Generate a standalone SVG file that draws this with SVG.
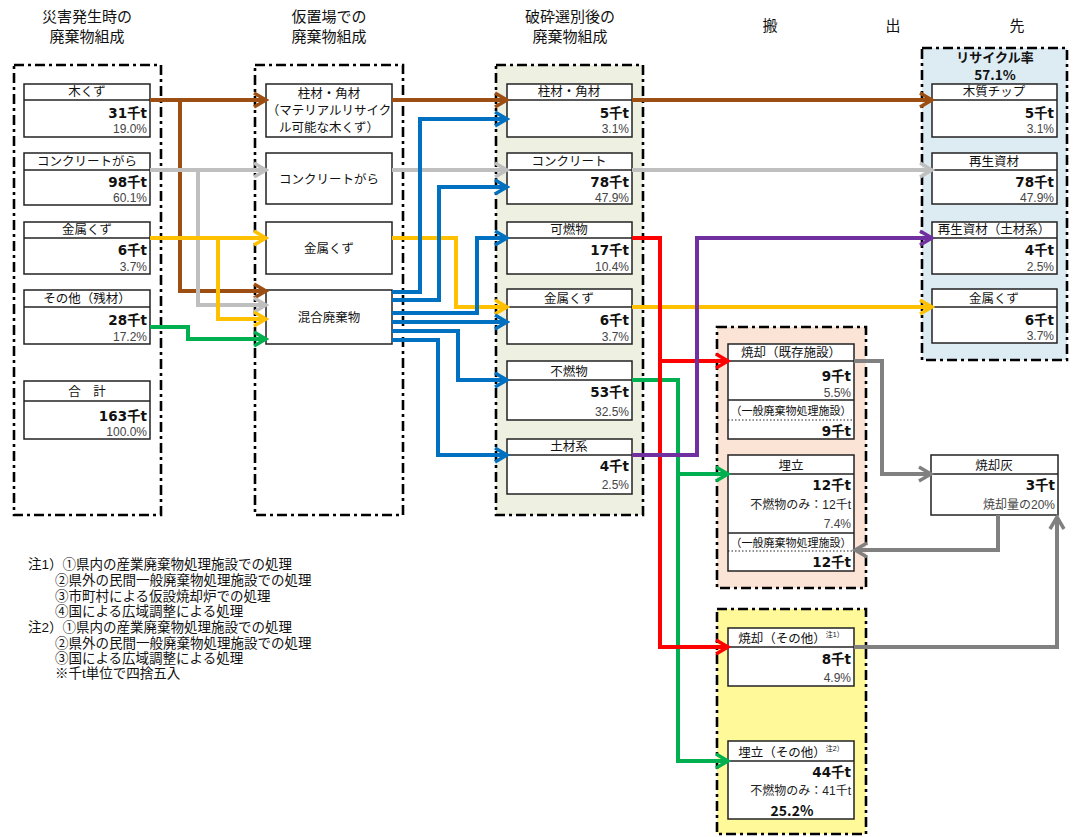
<svg xmlns="http://www.w3.org/2000/svg" width="1074" height="837" viewBox="0 0 1074 837">
<style>
text{font-family:"Noto Sans CJK JP","Liberation Sans",sans-serif;fill:#111}
.ttl{font-size:15px;text-anchor:middle}
.hd{font-family:"Liberation Sans","Noto Sans CJK JP",sans-serif;font-size:12.5px;text-anchor:middle}
.val{font-family:"DejaVu Sans","Noto Sans CJK JP",sans-serif;font-size:13.5px;font-weight:bold;fill:#111;text-anchor:end}
.pct{font-family:"Liberation Sans","Noto Sans CJK JP",sans-serif;font-size:12px;fill:#444;text-anchor:end}
.blk{font-family:"Liberation Sans","Noto Sans CJK JP",sans-serif;font-size:12px;fill:#222;text-anchor:end}
.sm{font-family:"Liberation Sans","Noto Sans CJK JP",sans-serif;font-size:11px;text-anchor:middle}
.note{font-family:"Liberation Sans","Noto Sans CJK JP",sans-serif;font-size:13.5px}
.bx{fill:#fff;stroke:#222;stroke-width:1.5}
.ln{stroke:#222;stroke-width:1.3}
.dot{stroke:#222;stroke-width:1.2;stroke-dasharray:1.5 2}
.cont{stroke:#000;stroke-width:2.6;stroke-dasharray:10 4 3 4}
.c{fill:none;stroke-width:4;stroke-linejoin:miter}
</style>
<defs>
<marker id="mBr" markerUnits="userSpaceOnUse" markerWidth="18" markerHeight="18" viewBox="0 0 18 18" refX="15" refY="9" orient="auto"><path d="M3,2 L15,9 L3,16" fill="none" stroke="#9C4E13" stroke-width="3.5"/></marker>
<marker id="mLg" markerUnits="userSpaceOnUse" markerWidth="18" markerHeight="18" viewBox="0 0 18 18" refX="15" refY="9" orient="auto"><path d="M3,2 L15,9 L3,16" fill="none" stroke="#BFBFBF" stroke-width="3.5"/></marker>
<marker id="mGo" markerUnits="userSpaceOnUse" markerWidth="18" markerHeight="18" viewBox="0 0 18 18" refX="15" refY="9" orient="auto"><path d="M3,2 L15,9 L3,16" fill="none" stroke="#FFC000" stroke-width="3.5"/></marker>
<marker id="mGr" markerUnits="userSpaceOnUse" markerWidth="18" markerHeight="18" viewBox="0 0 18 18" refX="15" refY="9" orient="auto"><path d="M3,2 L15,9 L3,16" fill="none" stroke="#00B050" stroke-width="3.5"/></marker>
<marker id="mRd" markerUnits="userSpaceOnUse" markerWidth="18" markerHeight="18" viewBox="0 0 18 18" refX="15" refY="9" orient="auto"><path d="M3,2 L15,9 L3,16" fill="none" stroke="#FF0000" stroke-width="3.5"/></marker>
<marker id="mPu" markerUnits="userSpaceOnUse" markerWidth="18" markerHeight="18" viewBox="0 0 18 18" refX="15" refY="9" orient="auto"><path d="M3,2 L15,9 L3,16" fill="none" stroke="#7030A0" stroke-width="3.5"/></marker>
<marker id="mBl" markerUnits="userSpaceOnUse" markerWidth="18" markerHeight="18" viewBox="0 0 18 18" refX="15" refY="9" orient="auto"><path d="M3,2 L15,9 L3,16" fill="none" stroke="#0070C0" stroke-width="3.5"/></marker>
<marker id="mDg" markerUnits="userSpaceOnUse" markerWidth="18" markerHeight="18" viewBox="0 0 18 18" refX="15" refY="9" orient="auto"><path d="M3,2 L15,9 L3,16" fill="none" stroke="#808080" stroke-width="3.5"/></marker>
</defs>
<rect width="1074" height="837" fill="#fff"/>

<g id="titles">
<text class="ttl" x="87" y="22">災害発生時の</text><text class="ttl" x="87" y="42">廃棄物組成</text>
<text class="ttl" x="329" y="22">仮置場での</text><text class="ttl" x="329" y="42">廃棄物組成</text>
<text class="ttl" x="570" y="22">破砕選別後の</text><text class="ttl" x="570" y="42">廃棄物組成</text>
<text class="ttl" x="770" y="31">搬</text><text class="ttl" x="893" y="31">出</text><text class="ttl" x="1017" y="31">先</text>
</g>

<g id="c1"><rect class="cont" x="14" y="65" width="147" height="450" fill="#fff"/></g>
<g id="c2"><rect class="cont" x="255" y="65" width="148" height="450" fill="#fff"/></g>
<g id="c3"><rect class="cont" x="496" y="65" width="147" height="450" fill="#EEF0E2"/></g>
<g id="c4"><rect class="cont" x="922" y="48" width="145" height="312" fill="#DDEBF3"/>
<text x="995" y="62" font-size="13" font-weight="bold" text-anchor="middle">リサイクル率</text>
<text x="995" y="80" font-size="13.5" font-weight="bold" text-anchor="middle" font-family="DejaVu Sans, sans-serif">57.1%</text></g>
<g id="c5"><rect class="cont" x="717" y="327" width="149" height="261" fill="#FBE4D5"/></g>
<g id="c6"><rect class="cont" x="717" y="609" width="149" height="225" fill="#FFF99A"/></g>

<g id="n1-mokuzu"><rect class="bx" x="24" y="84" width="126" height="53"/><line class="ln" x1="24" y1="100" x2="150" y2="100"/><text class="hd" x="87" y="96">木くず</text><text class="val" x="147" y="118">31千t</text><text class="pct" x="147" y="133">19.0%</text></g>
<g id="n1-concrete"><rect class="bx" x="24" y="153" width="126" height="52"/><line class="ln" x1="24" y1="170" x2="150" y2="170"/><text class="hd" x="87" y="166">コンクリートがら</text><text class="val" x="147" y="187">98千t</text><text class="pct" x="147" y="202">60.1%</text></g>
<g id="n1-metal"><rect class="bx" x="24" y="222" width="126" height="52"/><line class="ln" x1="24" y1="238" x2="150" y2="238"/><text class="hd" x="87" y="234">金属くず</text><text class="val" x="147" y="255">6千t</text><text class="pct" x="147" y="271">3.7%</text></g>
<g id="n1-other"><rect class="bx" x="24" y="290" width="126" height="54"/><line class="ln" x1="24" y1="307" x2="150" y2="307"/><text class="hd" x="87" y="303">その他（残材）</text><text class="val" x="147" y="325">28千t</text><text class="pct" x="147" y="341">17.2%</text></g>
<g id="n1-total"><rect class="bx" x="24" y="381" width="126" height="58"/><line class="ln" x1="24" y1="401" x2="150" y2="401"/><text class="hd" x="87" y="396">合　計</text><text class="val" x="147" y="421">163千t</text><text class="pct" x="147" y="436">100.0%</text></g>

<g id="n2-hashira"><rect class="bx" x="266" y="84" width="126" height="53"/><text class="hd" font-size="12"><tspan x="329" y="98">柱材・角材</tspan><tspan x="329" y="115">（マテリアルリサイク</tspan><tspan x="329" y="132">ル可能な木くず）</tspan></text></g>
<g id="n2-concrete"><rect class="bx" x="266" y="153" width="126" height="51"/><text class="hd" x="329" y="184">コンクリートがら</text></g>
<g id="n2-metal"><rect class="bx" x="266" y="222" width="126" height="52"/><text class="hd" x="329" y="253">金属くず</text></g>
<g id="n2-mixed"><rect class="bx" x="266" y="290" width="126" height="54"/><text class="hd" x="329" y="322">混合廃棄物</text></g>

<g id="n3-hashira"><rect class="bx" x="507" y="84" width="125" height="53"/><line class="ln" x1="507" y1="100" x2="632" y2="100"/><text class="hd" x="569" y="96">柱材・角材</text><text class="val" x="629" y="118">5千t</text><text class="pct" x="629" y="133">3.1%</text></g>
<g id="n3-concrete"><rect class="bx" x="507" y="153" width="125" height="51"/><line class="ln" x1="507" y1="170" x2="632" y2="170"/><text class="hd" x="569" y="166">コンクリート</text><text class="val" x="629" y="187">78千t</text><text class="pct" x="629" y="202">47.9%</text></g>
<g id="n3-burnable"><rect class="bx" x="507" y="222" width="125" height="52"/><line class="ln" x1="507" y1="238" x2="632" y2="238"/><text class="hd" x="569" y="234">可燃物</text><text class="val" x="629" y="255">17千t</text><text class="pct" x="629" y="271">10.4%</text></g>
<g id="n3-metal"><rect class="bx" x="507" y="289" width="125" height="55"/><line class="ln" x1="507" y1="307" x2="632" y2="307"/><text class="hd" x="569" y="303">金属くず</text><text class="val" x="629" y="325">6千t</text><text class="pct" x="629" y="341">3.7%</text></g>
<g id="n3-nonburn"><rect class="bx" x="507" y="361" width="125" height="59"/><line class="ln" x1="507" y1="380" x2="632" y2="380"/><text class="hd" x="569" y="376">不燃物</text><text class="val" x="629" y="397">53千t</text><text class="pct" x="629" y="416">32.5%</text></g>
<g id="n3-soil"><rect class="bx" x="507" y="439" width="125" height="55"/><line class="ln" x1="507" y1="455" x2="632" y2="455"/><text class="hd" x="569" y="451">土材系</text><text class="val" x="629" y="471">4千t</text><text class="pct" x="629" y="489">2.5%</text></g>

<g id="n4-chip"><rect class="bx" x="932" y="84" width="125" height="53"/><line class="ln" x1="932" y1="100" x2="1057" y2="100"/><text class="hd" x="994" y="96">木質チップ</text><text class="val" x="1054" y="118">5千t</text><text class="pct" x="1054" y="133">3.1%</text></g>
<g id="n4-recycled"><rect class="bx" x="932" y="153" width="125" height="51"/><line class="ln" x1="932" y1="170" x2="1057" y2="170"/><text class="hd" x="994" y="166">再生資材</text><text class="val" x="1054" y="187">78千t</text><text class="pct" x="1054" y="202">47.9%</text></g>
<g id="n4-recycled-soil"><rect class="bx" x="932" y="222" width="125" height="52"/><line class="ln" x1="932" y1="238" x2="1057" y2="238"/><text class="hd" x="994" y="234">再生資材（土材系）</text><text class="val" x="1054" y="255">4千t</text><text class="pct" x="1054" y="271">2.5%</text></g>
<g id="n4-metal"><rect class="bx" x="932" y="289" width="125" height="54"/><line class="ln" x1="932" y1="307" x2="1057" y2="307"/><text class="hd" x="994" y="303">金属くず</text><text class="val" x="1054" y="325">6千t</text><text class="pct" x="1054" y="340">3.7%</text></g>

<g id="n5-incin"><rect class="bx" x="728" y="344" width="126" height="95"/><line class="ln" x1="728" y1="361" x2="854" y2="361"/><line class="ln" x1="728" y1="400" x2="854" y2="400"/><line class="dot" x1="728" y1="420" x2="854" y2="420"/>
<text class="hd" x="791" y="357">焼却（既存施設）</text><text class="val" x="851" y="381">9千t</text><text class="pct" x="851" y="397">5.5%</text><text class="sm" x="791" y="415">（一般廃棄物処理施設）</text><text class="val" x="851" y="436">9千t</text></g>
<g id="n5-landfill"><rect class="bx" x="728" y="455" width="126" height="116"/><line class="ln" x1="728" y1="474" x2="854" y2="474"/><line class="ln" x1="728" y1="533" x2="854" y2="533"/><line class="dot" x1="728" y1="551" x2="854" y2="551"/>
<text class="hd" x="791" y="470">埋立</text><text class="val" x="851" y="490">12千t</text><text class="blk" x="851" y="509">不燃物のみ：12千t</text><text class="pct" x="851" y="528">7.4%</text><text class="sm" x="791" y="547">（一般廃棄物処理施設）</text><text class="val" x="851" y="567">12千t</text></g>

<g id="n-ash"><rect class="bx" x="931" y="455" width="127" height="60"/><line class="ln" x1="931" y1="474" x2="1058" y2="474"/><text class="hd" x="994" y="470">焼却灰</text><text class="val" x="1055" y="490">3千t</text><text class="pct" x="1055" y="509">焼却量の20%</text></g>

<g id="n6-incin"><rect class="bx" x="728" y="628" width="126" height="58"/><line class="ln" x1="728" y1="647" x2="854" y2="647"/><text class="hd" x="791" y="643">焼却（その他）<tspan font-size="7" dy="-6">注1）</tspan></text><text class="val" x="851" y="664">8千t</text><text class="pct" x="851" y="682">4.9%</text></g>
<g id="n6-landfill"><rect class="bx" x="728" y="741" width="126" height="78"/><line class="ln" x1="728" y1="761" x2="854" y2="761"/><text class="hd" x="791" y="757">埋立（その他）<tspan font-size="7" dy="-6">注2）</tspan></text><text class="val" x="851" y="777">44千t</text><text class="blk" x="851" y="795">不燃物のみ：41千t</text><text x="792" y="816" font-size="14" font-weight="bold" text-anchor="middle" font-family="DejaVu Sans, sans-serif">25.2%</text></g>

<g id="connectors">
<g stroke="#9C4E13" class="c" fill="none">
<path d="M150,100 H266" marker-end="url(#mBr)"/>
<path d="M180,100 V291 H266" marker-end="url(#mBr)"/>
<path d="M392,100 H507" marker-end="url(#mBr)"/>
<path d="M632,100 H932" marker-end="url(#mBr)"/>
</g>
<g stroke="#BFBFBF" class="c" fill="none">
<path d="M150,170 H266" marker-end="url(#mLg)"/>
<path d="M198,170 V305 H266" marker-end="url(#mLg)"/>
<path d="M392,170 H507" marker-end="url(#mLg)"/>
<path d="M632,170 H932" marker-end="url(#mLg)"/>
</g>
<g stroke="#FFC000" class="c" fill="none">
<path d="M150,238 H266" marker-end="url(#mGo)"/>
<path d="M218,238 V319 H266" marker-end="url(#mGo)"/>
<path d="M392,238 H456 V307 H507" marker-end="url(#mGo)"/>
<path d="M632,307 H932" marker-end="url(#mGo)"/>
</g>
<g stroke="#0070C0" class="c" fill="none">
<path d="M392,292 H420 V119 H507" marker-end="url(#mBl)"/>
<path d="M392,300 H439 V187 H507" marker-end="url(#mBl)"/>
<path d="M392,313 H477 V238 H507" marker-end="url(#mBl)"/>
<path d="M392,322 H507" marker-end="url(#mBl)"/>
<path d="M392,331 H458 V380 H507" marker-end="url(#mBl)"/>
<path d="M392,340 H438 V455 H507" marker-end="url(#mBl)"/>
</g>
<g stroke="#00B050" class="c" fill="none">
<path d="M150,327 H188 V339 H266" marker-end="url(#mGr)"/>
<path d="M632,380 H678 V761 H728" marker-end="url(#mGr)"/>
<path d="M678,474 H728" marker-end="url(#mGr)"/>
</g>
<g stroke="#FF0000" class="c" fill="none">
<path d="M632,238 H660 V647 H728" marker-end="url(#mRd)"/>
<path d="M660,361 H728" marker-end="url(#mRd)"/>
</g>
<g stroke="#7030A0" class="c" fill="none">
<path d="M632,455 H697 V238 H932" marker-end="url(#mPu)"/>
</g>
<g stroke="#808080" class="c" fill="none">
<path d="M854,361 H882 V474 H931" marker-end="url(#mDg)"/>
<path d="M998,515 V550 H855" marker-end="url(#mDg)"/>
<path d="M854,647 H1057 V517" marker-end="url(#mDg)"/>
</g>
</g>

<g id="notes">
<text class="note" x="28" y="569">注1）①県内の産業廃棄物処理施設での処理</text>
<text class="note" x="55" y="585">②県外の民間一般廃棄物処理施設での処理</text>
<text class="note" x="55" y="601">③市町村による仮設焼却炉での処理</text>
<text class="note" x="55" y="616">④国による広域調整による処理</text>
<text class="note" x="28" y="632">注2）①県内の産業廃棄物処理施設での処理</text>
<text class="note" x="55" y="648">②県外の民間一般廃棄物処理施設での処理</text>
<text class="note" x="55" y="663">③国による広域調整による処理</text>
<text class="note" x="55" y="678">※千t単位で四捨五入</text>
</g>
</svg>
